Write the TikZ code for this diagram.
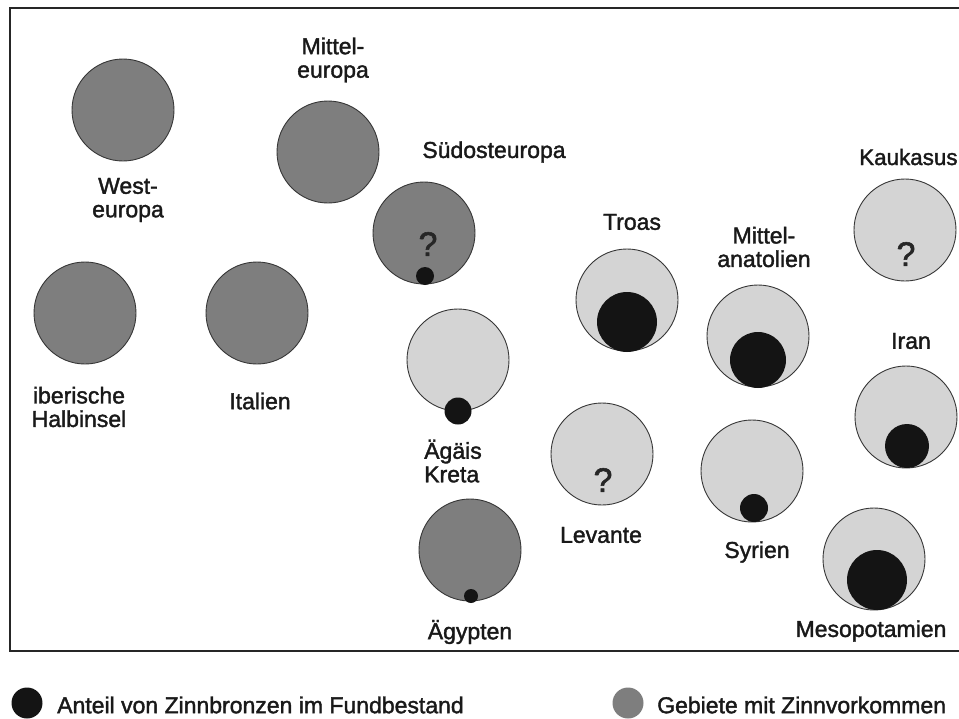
\documentclass[tikz,border=0pt]{standalone}
\usepackage{fontspec}
\setmainfont[FakeBold=1.6]{Liberation Sans}
\definecolor{tinarea}{RGB}{126,126,126}
\definecolor{nontin}{RGB}{212,212,212}
\definecolor{bronze}{RGB}{20,20,20}
\definecolor{rim}{RGB}{55,55,55}
\tikzset{
  tincirc/.style={circle, draw=rim, line width=0.9pt, fill=tinarea, minimum size=102pt, inner sep=0pt},
  plaincirc/.style={circle, draw=rim, line width=0.9pt, fill=nontin, minimum size=102pt, inner sep=0pt},
  dot/.style={circle, fill=bronze, draw=none, inner sep=0pt, minimum size=#1},
  lbl/.style={font=\fontsize{23}{23.5}\selectfont, align=center, inner sep=0pt, text=black!90},
  qmark/.style={font=\fontsize{34}{34}\selectfont, inner sep=0pt, text=black!85}
}
\begin{document}
\begin{tikzpicture}[x=1pt,y=-1pt]
\useasboundingbox (0,0) rectangle (959,718);
\clip (0,0) rectangle (959,718);
\fill[white] (0,0) rectangle (959,718);
\draw[line width=1.8pt, black!85] (10,8) rectangle (975,651);

% tin-rich regions (dark grey)
\node[tincirc] (west) at (123,110) {};
\node[tincirc] (mittel) at (328,152) {};
\node[tincirc] (suedost) at (424,233) {};
\node[tincirc] (iber) at (85,313) {};
\node[tincirc] (ital) at (257,313) {};
\node[tincirc] (aegypt) at (470,550) {};

% other regions (light grey)
\node[plaincirc] (aegaeis) at (458,360) {};
\node[plaincirc] (troas) at (627,300) {};
\node[plaincirc] (manat) at (758,336) {};
\node[plaincirc] (kauk) at (905,230) {};
\node[plaincirc] (iran) at (906,417) {};
\node[plaincirc] (levante) at (602,454) {};
\node[plaincirc] (syrien) at (752,471) {};
\node[plaincirc] (meso) at (874,559) {};

% proportion of tin bronzes
\node[dot=18pt] (dsuedost) at (425,276) {};
\node[dot=27pt] (daegaeis) at (458,411) {};
\node[dot=14pt] (daegypt) at (471,596) {};
\node[dot=60pt] (dtroas) at (627,322) {};
\node[dot=56pt] (dmanat) at (758,360) {};
\node[dot=44pt] (diran) at (907,446) {};
\node[dot=28pt] (dsyrien) at (754,508) {};
\node[dot=60pt] (dmeso) at (877,580) {};

% question marks
\node[qmark] (qsuedost) at (428,244) {?};
\node[qmark] (qkauk) at (906,254) {?};
\node[qmark] (qlevante) at (603,480) {?};

% labels
\node[lbl] (lmittel) at (333,60) {Mittel-\\europa};
\node[lbl] (lwest) at (128,200) {West-\\europa};
\node[lbl] (lsuedost) at (494,152) {Südosteuropa};
\node[lbl] (ltroas) at (632,222) {Troas};
\node[lbl] (lmanat) at (764,247) {Mittel-\\anatolien};
\node[lbl, anchor=west, font=\fontsize{22.4}{23}\selectfont] (lkauk) at (859,157) {Kaukasus};
\node[lbl] (liran) at (911,341) {Iran};
\node[lbl] (liber) at (79,407) {iberische\\Halbinsel};
\node[lbl] (lital) at (260,401) {Italien};
\node[lbl, align=left] (laegaeis) at (453,461) {Ägäis\\Kreta};
\node[lbl] (laegypt) at (470,632) {Ägypten};
\node[lbl] (llevante) at (601,535) {Levante};
\node[lbl] (lsyrien) at (757,552) {Syrien};
\node[lbl] (lmeso) at (871,631) {Mesopotamien};

% legend
\node[dot=31pt] (legdot) at (27,703) {};
\node[lbl, anchor=west] (legtext) at (57,705) {Anteil von Zinnbronzen im Fundbestand};
\node[circle, fill=tinarea, draw=none, minimum size=31pt, inner sep=0pt] (leggrey) at (628,703) {};
\node[lbl, anchor=west] (leggreytext) at (657,705) {Gebiete mit Zinnvorkommen};
\end{tikzpicture}
\end{document}
